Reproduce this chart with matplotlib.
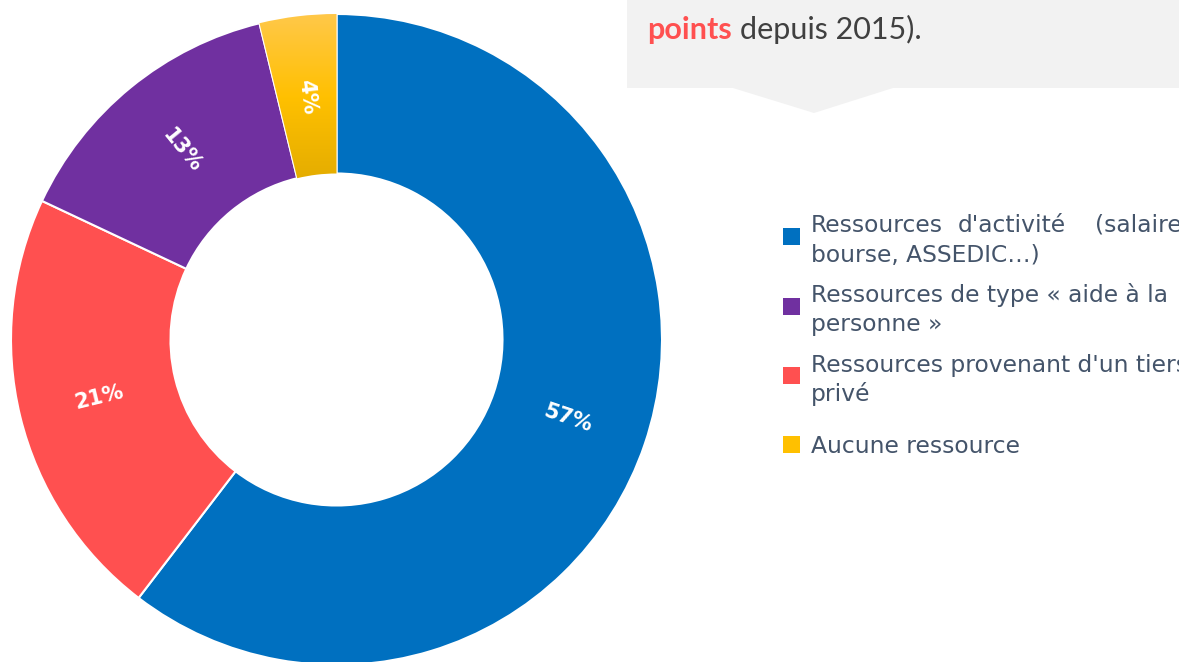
import numpy as np
import matplotlib.pyplot as plt
from matplotlib.patches import Rectangle, Polygon
from matplotlib.colors import LinearSegmentedColormap

# donnees du graphique (ordre du camembert)
categories = ["Ressources d'activité", "Ressources provenant d'un tiers privé",
              "Ressources de type « aide à la personne »", "Aucune ressource"]
parts = [60.4, 21.6, 14.2, 3.8]          # taille des parts
etiquettes = ["57%", "21%", "13%", "4%"]  # etiquettes affichees
couleurs = ["#0070C0", "#FF5050", "#7030A0", "#FFC000"]

# legende (ordre de la legende), une liste de lignes par entree
legende_lignes = [["Ressources d'activité (salaire,", "bourse, ASSEDIC…)"],
                  ["Ressources de type « aide à la", "personne »"],
                  ["Ressources provenant d'un tiers", "privé"],
                  ["Aucune ressource"]]
legende_couleurs = ["#0070C0", "#7030A0", "#FF5050", "#FFC000"]

W, H = 1179, 662
fig = plt.figure(figsize=(W / 100, H / 100), dpi=100)

# calque en pixels pour la bulle et la legende
over = fig.add_axes([0, 0, 1, 1])
over.set_xlim(0, W)
over.set_ylim(H, 0)
over.axis("off")

# bulle grise en haut a droite
bulle = Polygon([(627, 0), (W + 5, 0), (W + 5, 88), (893, 88), (814, 113), (733, 88), (627, 88)],
                closed=True, facecolor="#F2F2F2", edgecolor="none")
over.add_patch(bulle)
over.text(647, 39, "points", color="#FF5050", fontsize=22, fontweight="bold",
          family="Lato", va="baseline", ha="left")
over.text(740, 39, "depuis 2015).", color="#404040", fontsize=22,
          family="Lato", va="baseline", ha="left")

# legende
y_carres = [236.5, 306, 375, 444]
y_bases = [[232, 262], [302, 331], [372, 401], [453]]
x_mots = [811, 958, 1095]  # premiere ligne justifiee
txt_kw = dict(color="#44546A", fontsize=16.8, family="DejaVu Sans", va="baseline", ha="left")
for i, (lignes, c, yc, yb) in enumerate(zip(legende_lignes, legende_couleurs, y_carres, y_bases)):
    over.add_patch(Rectangle((783, yc - 8.5), 17, 17, facecolor=c, edgecolor="none"))
    for j, (ligne, y) in enumerate(zip(lignes, yb)):
        if i == 0 and j == 0:
            for mot, x in zip(ligne.split(" "), x_mots):
                over.text(x, y, mot, **txt_kw)
        else:
            over.text(811, y, ligne, **txt_kw)

# anneau
cx, cy, R = 336.5, 339.5, 325.5
ax = fig.add_axes([(cx - R) / W, (H - cy - R) / H, 2 * R / W, 2 * R / H])
wedges, _ = ax.pie(parts, colors=couleurs, startangle=90, counterclock=False,
                   radius=1, wedgeprops=dict(width=0.49, edgecolor="white", linewidth=1.5))
ax.axis("off")

# degrade sur la part jaune
jaune = wedges[3]
grad = np.linspace(0, 1, 256).reshape(-1, 1)
cmap_j = LinearSegmentedColormap.from_list("j", ["#E3AC00", "#FFC000", "#FFC84A"])
im = ax.imshow(grad, cmap=cmap_j, extent=(-0.3, 0.1, 0.48, 1.0), origin="lower",
               aspect="auto", zorder=jaune.get_zorder() + 0.1)
im.set_clip_path(jaune)
ax.set_xlim(-1, 1)
ax.set_ylim(-1, 1)
ax.set_aspect("equal")

# etiquettes en pourcentage, tournees selon le rayon
for w, lab in zip(wedges, etiquettes):
    mid = (w.theta1 + w.theta2) / 2
    r = 0.75
    x, y = r * np.cos(np.radians(mid)), r * np.sin(np.radians(mid))
    rot = mid % 360
    if 90 < rot < 270:
        rot -= 180
    elif rot >= 270:
        rot -= 360
    ax.text(x, y, lab, color="white", fontsize=15, fontweight="bold",
            ha="center", va="center", rotation=rot, rotation_mode="anchor", zorder=5)

fig.savefig("out.png", dpi=100)
